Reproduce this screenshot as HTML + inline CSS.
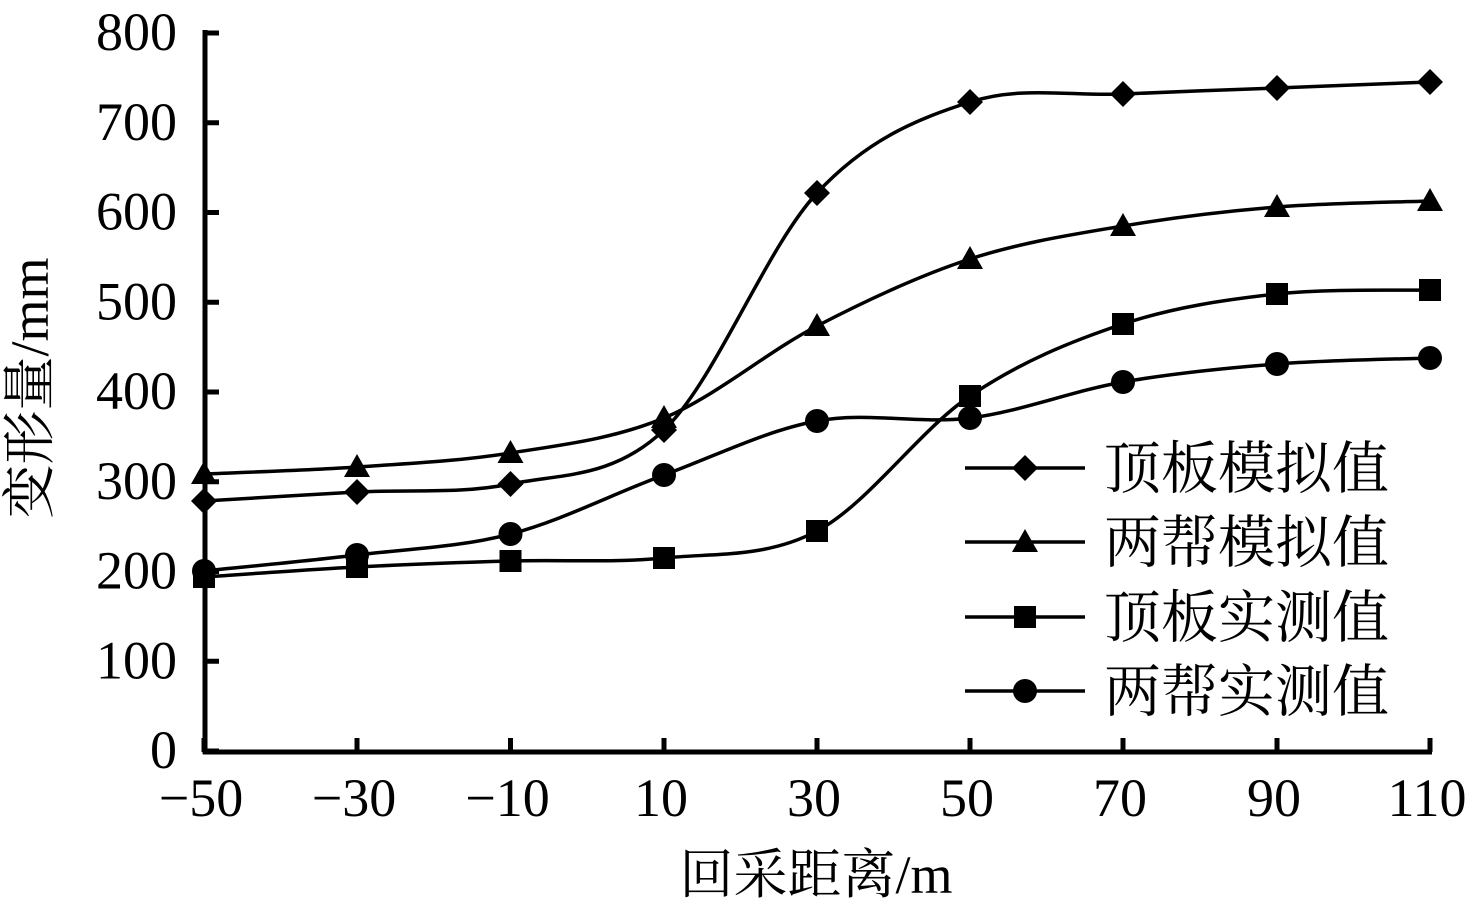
<!DOCTYPE html>
<html><head><meta charset="utf-8"><style>
html,body{margin:0;padding:0;background:#fff;}
svg text{font-family:"Liberation Serif","Noto Serif CJK SC",serif;fill:#000;}
</style></head><body>
<svg id="s" width="1473" height="914" viewBox="0 0 1473 914" xmlns="http://www.w3.org/2000/svg">
<g stroke="#000" stroke-width="5" fill="none">
<line x1="205" y1="30" x2="205" y2="754"/>
<line x1="203" y1="752" x2="1432" y2="752"/>
</g>
<g id="ticks" stroke="#000" stroke-width="5"></g>
<g id="labels" font-size="54"></g>
<text x="816" y="893" font-size="54" text-anchor="middle">回采距离/m</text>
<text transform="translate(48,388) rotate(-90)" font-size="54" text-anchor="middle">变形量/mm</text>
<g id="series"></g>
<g id="legend" font-size="57"></g>
</svg>
<script>
var NS="http://www.w3.org/2000/svg";
function el(t,a,p){var e=document.createElementNS(NS,t);for(var k in a)e.setAttribute(k,a[k]);p.appendChild(e);return e;}
var ticks=document.getElementById('ticks'),labels=document.getElementById('labels');
for(var i=0;i<=8;i++){var y=751-i*89.75;
 el('line',{x1:205,y1:y,x2:219,y2:y},ticks);
 var t=el('text',{x:177,y:y+17,'text-anchor':'end'},labels);t.textContent=i*100;}
var xs=[204,357,510.5,664,817,970,1123,1277,1430],xl=['−50','−30','−10','10','30','50','70','90','110'];
for(var i=0;i<9;i++){el('line',{x1:xs[i],y1:752,x2:xs[i],y2:738},ticks);
 var t=el('text',{x:xs[i]-3,y:816,'text-anchor':'middle'},labels);t.textContent=xl[i];}
var data=[
 ['d',[501,492,484,430,193,102,94,88,82]],
 ['t',[474,467,453,418,326,259,226,207,201]],
 ['s',[577,567,561,558,531,396,324,294,290]],
 ['c',[571,555,534,475,421,418,382,364,358]]];
var ser=document.getElementById('series');
function marker(k,x,y,g){
 if(k=='d')el('polygon',{points:(x)+','+(y-13)+' '+(x+13)+','+y+' '+x+','+(y+13)+' '+(x-13)+','+y},g);
 if(k=='t')el('polygon',{points:x+','+(y-13)+' '+(x+13)+','+(y+10)+' '+(x-13)+','+(y+10)},g);
 if(k=='s')el('rect',{x:x-11,y:y-11,width:22,height:22},g);
 if(k=='c')el('circle',{cx:x,cy:y,r:12},g);}
data.forEach(function(s){
 var p=s[1].map(function(y,i){return [xs[i],y];});
 var d='M'+p[0][0]+','+p[0][1];
 for(var i=0;i<p.length-1;i++){
  var p0=p[i-1]||p[i],p1=p[i],p2=p[i+1],p3=p[i+2]||p2,k=6;
  d+=' C'+(p1[0]+(p2[0]-p0[0])/k)+','+(p1[1]+(p2[1]-p0[1])/k)+' '+(p2[0]-(p3[0]-p1[0])/k)+','+(p2[1]-(p3[1]-p1[1])/k)+' '+p2[0]+','+p2[1];}
 el('path',{d:d,fill:'none',stroke:'#000','stroke-width':3.5},ser);
 var g=el('g',{fill:'#000'},ser);
 p.forEach(function(q){marker(s[0],q[0],q[1],g);});
});
var lg=document.getElementById('legend'),names=['顶板模拟值','两帮模拟值','顶板实测值','两帮实测值'],ly=[468,542,617,691];
for(var i=0;i<4;i++){
 el('line',{x1:965,y1:ly[i],x2:1085,y2:ly[i],stroke:'#000','stroke-width':3.5},lg);
 var g=el('g',{fill:'#000'},lg);marker(data[i][0],1025,ly[i],g);
 var t=el('text',{x:1104,y:ly[i]+20},lg);t.textContent=names[i];}
</script>
</body></html>
